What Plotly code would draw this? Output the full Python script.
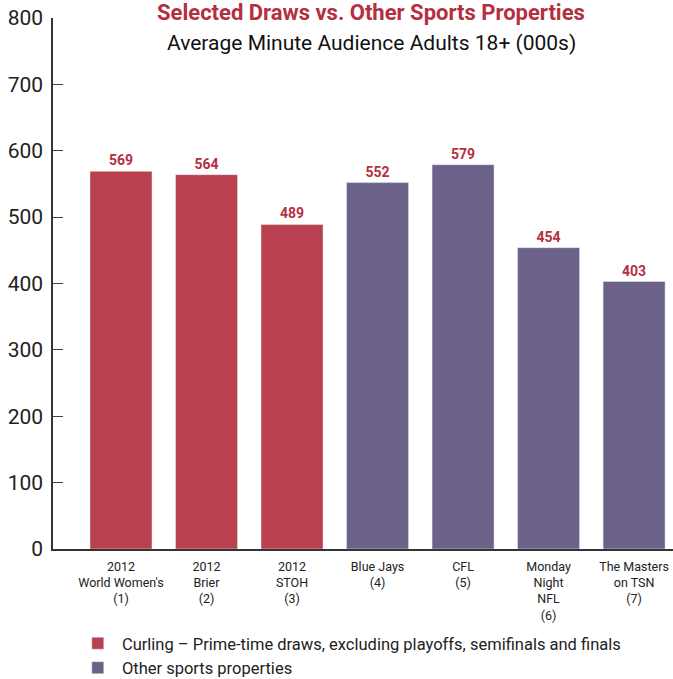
import plotly.graph_objects as go

categories = ["2012<br>World Women's<br>(1)", "2012<br>Brier<br>(2)", "2012<br>STOH<br>(3)",
              "Blue Jays<br>(4)", "CFL<br>(5)", "Monday<br>Night<br>NFL<br>(6)", "The Masters<br>on TSN<br>(7)"]
curling_cats = categories[:3]
curling_vals = [569, 564, 489]
other_cats = categories[3:]
other_vals = [552, 579, 454, 403]
curling_name = "Curling – Prime-time draws, excluding playoffs, semifinals and finals"
other_name = "Other sports properties"
title_text = "Selected Draws vs. Other Sports Properties"
subtitle_text = "Average Minute Audience Adults 18+ (000s)"

RED = "#b9404e"
PURPLE = "#6b6189"
LABEL_RED = "#b52f40"
FONT = "Roboto"

fig = go.Figure()
fig.add_trace(go.Bar(x=curling_cats, y=curling_vals, name="\u00a0" + curling_name, marker_color=RED,
                     text=curling_vals, textposition="outside",
                     textfont=dict(color=LABEL_RED, size=14, family=FONT, weight="bold"),
                     cliponaxis=False))
fig.add_trace(go.Bar(x=other_cats, y=other_vals, name="\u00a0" + other_name, marker_color=PURPLE,
                     text=other_vals, textposition="outside",
                     textfont=dict(color=LABEL_RED, size=14, family=FONT, weight="bold"),
                     cliponaxis=False))

fig.update_layout(
    width=673, height=679,
    margin=dict(l=53, r=0, t=18, b=130, autoexpand=False),
    plot_bgcolor="white", paper_bgcolor="white",
    barmode="overlay", bargap=0.275,
    font=dict(family=FONT, color="#222"),
    showlegend=True,
    legend=dict(x=0.04, xref="paper", y=(679 - 626) / 679, yref="container",
                yanchor="top", xanchor="left",
                font=dict(size=16.5, family=FONT, color="#222"), tracegroupgap=6,
                itemclick=False),
    xaxis=dict(type="category", categoryorder="array", categoryarray=categories,
               range=[-0.795, 6.455], showline=True, linecolor="#333", linewidth=1.5,
               ticks="", tickfont=dict(size=12.5, family=FONT, color="#222"), showgrid=False,
               ticklabelstandoff=5, automargin=False),
    yaxis=dict(range=[0, 800], dtick=100, showline=True, linecolor="#333", linewidth=1.5,
               ticks="inside", ticklen=10, tickcolor="#444", showgrid=False, zeroline=False,
               tickfont=dict(size=21, family=FONT, color="#222"), ticklabelstandoff=4,
               automargin=False),
)
fig.add_annotation(text="<b>" + title_text + "</b>", xref="paper", yref="paper",
                   x=(371 - 53) / 620, y=1 + (18 - 12) / 531, yanchor="middle", showarrow=False,
                   font=dict(size=22, family=FONT, color=LABEL_RED))
fig.add_annotation(text=subtitle_text, xref="paper", yref="paper",
                   x=(371 - 53) / 620, y=1 - (43 - 18) / 531, yanchor="middle", showarrow=False,
                   font=dict(size=21, family=FONT, color="#111"))

fig.write_html("out.html", config={"displayModeBar": False},
               post_script="document.body.style.margin='0';document.body.style.overflow='hidden';")
